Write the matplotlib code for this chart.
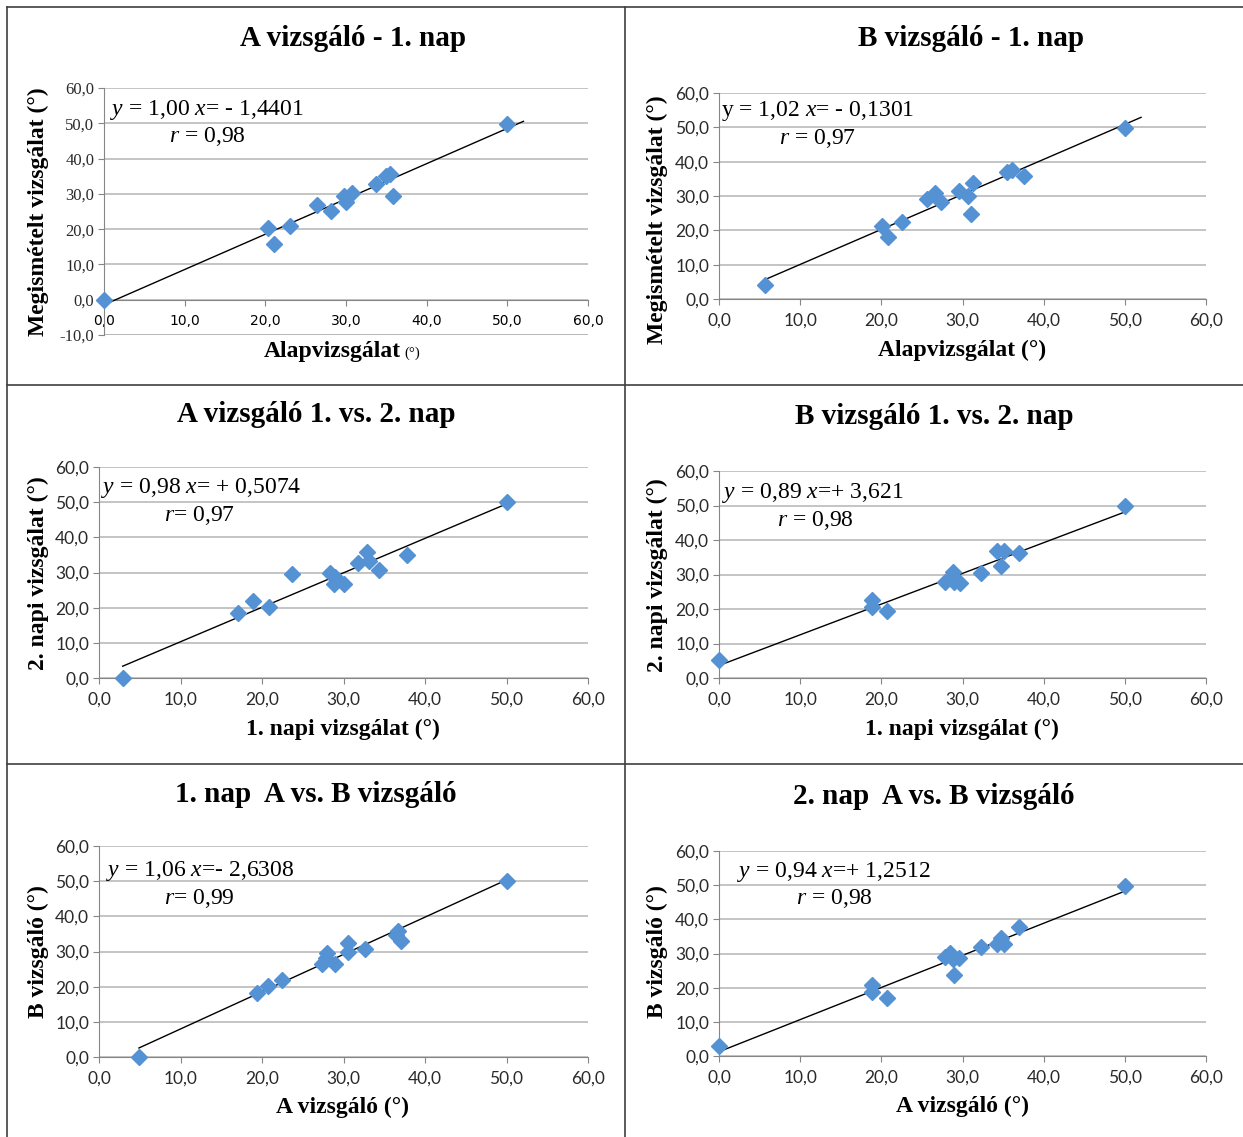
import matplotlib
matplotlib.use("Agg")
import matplotlib.pyplot as plt
from matplotlib.lines import Line2D

plt.rcParams['mathtext.fontset'] = 'custom'
plt.rcParams['mathtext.rm'] = 'Liberation Serif'
plt.rcParams['mathtext.it'] = 'Liberation Serif:italic'

W, H = 1243, 1137

# ---------------- data ----------------
titles = ["A vizsgáló - 1. nap", "B vizsgáló - 1. nap",
          "A vizsgáló 1. vs. 2. nap", "B vizsgáló 1. vs. 2. nap",
          "1. nap  A vs. B vizsgáló", "2. nap  A vs. B vizsgáló"]
xlabels = ["Alapvizsgálat", "Alapvizsgálat (°)",
           "1. napi vizsgálat (°)", "1. napi vizsgálat (°)",
           "A vizsgáló (°)", "A vizsgáló (°)"]
ylabels = ["Megismételt vizsgálat (°)", "Megismételt vizsgálat (°)",
           "2. napi vizsgálat (°)", "2. napi vizsgálat (°)",
           "B vizsgáló (°)", "B vizsgáló (°)"]
equations = ["$y$ = 1,00 $x$= - 1,4401", "y = 1,02 $x$= - 0,1301",
             "$y$ = 0,98 $x$= + 0,5074", "$y$ = 0,89 $x$=+ 3,621",
             "$y$ = 1,06 $x$=- 2,6308", "$y$ = 0,94 $x$=+ 1,2512"]
r_texts = ["$r$ = 0,98", "$r$ = 0,97", "$r$= 0,97", "$r$ = 0,98",
           "$r$= 0,99", "$r$ = 0,98"]

x1 = [0.0, 20.3, 21.1, 23.1, 26.4, 28.2, 29.8, 30.0, 30.8, 33.7, 35.0, 35.4, 35.8, 50.0]
y1 = [0.0, 20.2, 15.7, 20.9, 26.9, 25.0, 29.5, 27.7, 30.2, 32.7, 35.2, 35.6, 29.3, 49.8]

x2 = [5.7, 20.1, 20.8, 22.6, 25.6, 26.6, 27.3, 29.6, 30.7, 31.1, 31.3, 35.5, 36.1, 37.6, 50.0]
y2 = [4.2, 21.3, 18.0, 22.4, 29.1, 31.0, 28.3, 31.5, 29.9, 24.8, 33.9, 37.0, 37.6, 35.7, 49.7]

x3 = [2.9, 17.0, 18.9, 20.8, 23.7, 28.3, 29.0, 28.8, 30.1, 31.8, 32.9, 33.1, 34.3, 37.8, 50.0]
y3 = [0.0, 18.5, 22.0, 20.1, 29.6, 29.8, 28.7, 26.6, 26.6, 32.6, 35.8, 33.2, 30.6, 35.0, 50.0]

x4 = [0.0, 18.8, 18.8, 20.7, 27.8, 28.8, 28.8, 28.9, 29.7, 32.3, 34.3, 35.1, 34.8, 37.0, 50.0]
y4 = [5.1, 22.7, 20.7, 19.4, 27.7, 30.6, 29.3, 27.8, 27.4, 30.4, 36.7, 36.9, 32.6, 36.2, 50.0]

x5 = [4.9, 19.4, 20.7, 22.5, 27.4, 27.8, 28.0, 28.9, 30.5, 30.6, 32.6, 36.4, 36.7, 37.0, 50.0]
y5 = [0.0, 18.2, 20.3, 21.9, 26.4, 28.2, 29.6, 26.4, 29.8, 32.5, 30.6, 34.8, 35.8, 33.1, 50.0]

x6 = [0.0, 18.8, 18.8, 20.7, 27.8, 28.5, 28.8, 28.9, 29.6, 32.3, 34.3, 34.8, 35.1, 37.0, 50.0]
y6 = [2.9, 20.9, 18.8, 16.9, 29.1, 30.1, 28.4, 23.6, 28.7, 31.8, 32.8, 34.5, 32.9, 37.7, 49.9]

slopes = [1.00, 1.02, 0.98, 0.89, 1.06, 0.94]
intercepts = [-1.4401, -0.1301, 0.5074, 3.621, -2.6308, 1.2512]
trend_end = [52.0, 52.0, 50.0, 50.0, 50.0, 50.0]

xs = [x1, x2, x3, x4, x5, x6]
ys = [y1, y2, y3, y4, y5, y6]
y_min = [-10, 0, 0, 0, 0, 0]
x_ticks = [0, 10, 20, 30, 40, 50, 60]

# ---------------- layout (pixels) ----------------
boxes = [(104, 588, 88, 335), (719, 1206, 93, 299),
         (99, 588, 467, 678), (719, 1206, 471, 678),
         (99, 588, 846, 1057), (719, 1206, 851, 1056)]
title_pos = [(353, 38), (971, 38), (316, 415), (934, 417), (316, 794), (934, 796)]
xlabel_pos = [(345, 352), (962, 350), (343, 729), (962, 729), (343, 1107), (962, 1106)]
ylabel_pos = [(38, 212), (657, 220), (38, 573), (657, 575), (38, 952), (657, 952)]
eq_pos = [(110, 110), (721, 111), (101, 488), (722, 493), (106, 871), (737, 872)]
r_pos = [(169, 137), (779, 138), (164, 515), (777, 520), (164, 898), (796, 899)]

fig = plt.figure(figsize=(W / 100, H / 100), dpi=100)
fig.patch.set_facecolor('white')

def fx(px):
    return px / W

def fy(py):
    return 1 - py / H

serif = 'Liberation Serif'
marker_color = '#5592D4'
grid_color = '#B4B4B4'

for i in range(6):
    x0p, x1p, ytp, ybp = boxes[i]
    ax = fig.add_axes([fx(x0p), fy(ybp), (x1p - x0p) / W, (ybp - ytp) / H])
    ax.set_xlim(0, 60)
    ax.set_ylim(y_min[i], 60)
    yt = list(range(y_min[i], 61, 10))
    ax.set_yticks(yt)
    ax.set_xticks(x_ticks)
    tick_family = serif if i == 0 else 'Lato'
    tick_size = 12 if i == 0 else 12.5
    ax.set_yticklabels([f"{v:.1f}".replace('.', ',') for v in yt],
                       fontfamily=tick_family, fontsize=tick_size, color='#2a2a2a')
    ax.set_xticklabels([f"{v:.1f}".replace('.', ',') for v in x_ticks],
                       fontfamily=tick_family, fontsize=tick_size, color='#2a2a2a')
    ax.yaxis.grid(True, color=grid_color, linewidth=1.1)
    ax.set_axisbelow(True)
    for s in ['top', 'right']:
        ax.spines[s].set_visible(False)
    ax.spines['left'].set_color('#868686')
    ax.spines['bottom'].set_color('#868686')
    if y_min[i] < 0:
        ax.spines['bottom'].set_position(('data', 0))
        ax.axhline(y_min[i], color=grid_color, linewidth=1.1, zorder=0)
    ax.tick_params(axis='both', length=4, color='#868686', pad=3)
    ax.tick_params(axis='x', pad=6)
    ax.patch.set_alpha(0)

    # trend line
    xl = [min(xs[i]), trend_end[i]]
    yl = [slopes[i] * v + intercepts[i] for v in xl]
    ax.plot(xl, yl, color='black', linewidth=1.0, zorder=3)
    ax.plot(xs[i], ys[i], linestyle='none', marker='D', markersize=8,
            color=marker_color, markeredgecolor=marker_color, zorder=4, clip_on=False)

    # texts
    fig.text(fx(title_pos[i][0]), fy(title_pos[i][1]), titles[i], ha='center', va='center',
             fontfamily=serif, fontweight='bold', fontsize=21)
    if i == 0:
        fig.text(fx(401), fy(xlabel_pos[i][1]), xlabels[i], ha='right',
                 va='center', fontfamily=serif, fontweight='bold', fontsize=17)
        fig.text(fx(404), fy(xlabel_pos[i][1] + 1), "(°)", ha='left',
                 va='center', fontfamily=serif, fontsize=10.5)
    else:
        fig.text(fx(xlabel_pos[i][0]), fy(xlabel_pos[i][1]), xlabels[i], ha='center',
                 va='center', fontfamily=serif, fontweight='bold', fontsize=17)
    fig.text(fx(ylabel_pos[i][0]), fy(ylabel_pos[i][1]), ylabels[i], ha='center', va='center',
             rotation=90, fontfamily=serif, fontweight='bold', fontsize=17)
    fig.text(fx(eq_pos[i][0]), fy(eq_pos[i][1]), equations[i], ha='left', va='center',
             fontfamily=serif, fontsize=17)
    fig.text(fx(r_pos[i][0]), fy(r_pos[i][1]), r_texts[i], ha='left', va='center',
             fontfamily=serif, fontsize=17)

# panel borders
border_kw = dict(color='#404040', linewidth=1.2, transform=fig.transFigure)
fig.add_artist(Line2D([fx(7), fx(7)], [fy(7), fy(1137)], **border_kw))
fig.add_artist(Line2D([fx(625), fx(625)], [fy(7), fy(1137)], **border_kw))
fig.add_artist(Line2D([fx(7), fx(1243)], [fy(7), fy(7)], **border_kw))
fig.add_artist(Line2D([fx(7), fx(1243)], [fy(385), fy(385)], **border_kw))
fig.add_artist(Line2D([fx(7), fx(1243)], [fy(764), fy(764)], **border_kw))

fig.savefig("out.png", dpi=100, facecolor='white')
